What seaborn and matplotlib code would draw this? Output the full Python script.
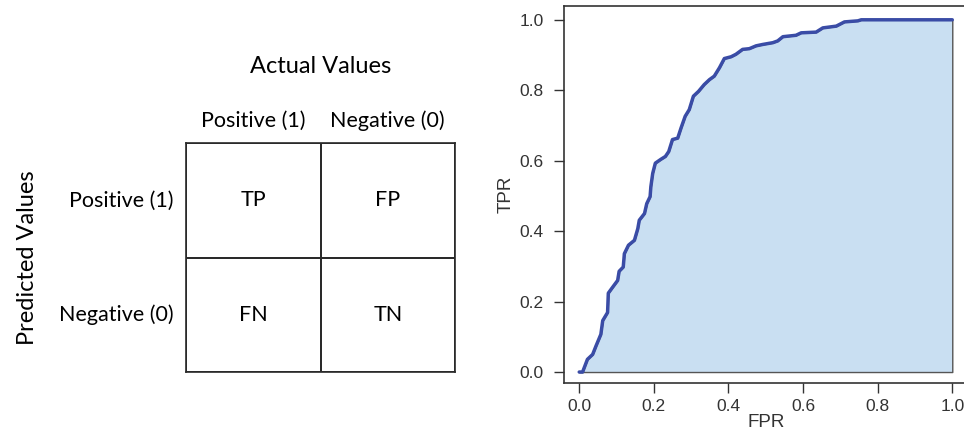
import numpy as np
import matplotlib
matplotlib.use('Agg')
import matplotlib.pyplot as plt
import seaborn as sns
from matplotlib.colors import ListedColormap

# confusion matrix layout
cells = [['TP', 'FP'], ['FN', 'TN']]
actual_labels = ['Positive (1)', 'Negative (0)']
predicted_labels = ['Positive (1)', 'Negative (0)']

# ROC curve
fpr = [0.0, 0.009, 0.022, 0.036, 0.045, 0.058, 0.063, 0.076, 0.078, 0.089,
       0.103, 0.107, 0.118, 0.121, 0.132, 0.148, 0.157, 0.161, 0.175, 0.181,
       0.19, 0.192, 0.197, 0.204, 0.219, 0.231, 0.24, 0.25, 0.264, 0.273,
       0.284, 0.295, 0.306, 0.32, 0.335, 0.349, 0.362, 0.376, 0.389, 0.407,
       0.42, 0.438, 0.456, 0.474, 0.492, 0.519, 0.532, 0.546, 0.581, 0.595,
       0.635, 0.653, 0.689, 0.711, 0.747, 0.756, 1.0]
tpr = [0.0, 0.0, 0.036, 0.05, 0.074, 0.107, 0.146, 0.169, 0.224, 0.24,
       0.26, 0.286, 0.298, 0.336, 0.36, 0.374, 0.407, 0.431, 0.45, 0.478,
       0.498, 0.526, 0.564, 0.593, 0.604, 0.612, 0.626, 0.66, 0.664, 0.693,
       0.726, 0.745, 0.783, 0.797, 0.816, 0.83, 0.84, 0.864, 0.89, 0.895,
       0.902, 0.916, 0.918, 0.926, 0.93, 0.935, 0.94, 0.952, 0.956, 0.963,
       0.965, 0.977, 0.982, 0.994, 0.997, 1.0, 1.0]
roc_ticks = [0.0, 0.2, 0.4, 0.6, 0.8, 1.0]

sns.set_style('white')
plt.rcParams['font.family'] = ['Liberation Sans', 'DejaVu Sans']
W, H = 964, 433
fig = plt.figure(figsize=(W / 100, H / 100), dpi=100)

# left panel: confusion matrix
ax1 = fig.add_axes([186 / W, 1 - 371.7 / H, 269 / W, 228.4 / H])
sns.heatmap(np.zeros((2, 2)), annot=np.array(cells), fmt='',
            cmap=ListedColormap(['white']), cbar=False,
            linewidths=1.2, linecolor='#2a2a2a',
            xticklabels=actual_labels, yticklabels=predicted_labels,
            annot_kws={'fontsize': 15.5, 'color': '#000', 'family': 'Lato'},
            ax=ax1)
for s in ax1.spines.values():
    s.set_visible(True)
    s.set_color('#2a2a2a')
    s.set_linewidth(1.2)
ax1.xaxis.tick_top()
ax1.xaxis.set_label_position('top')
ax1.tick_params(axis='both', length=0, labelsize=15.5, colors='#000')
ax1.tick_params(axis='x', pad=9)
ax1.tick_params(axis='y', pad=9)
for t in ax1.get_xticklabels() + ax1.get_yticklabels():
    t.set_family('Lato')
plt.setp(ax1.get_yticklabels(), rotation=0)
ax1.set_xlabel('Actual Values', fontsize=17, family='Lato', color='#000', labelpad=27)
ax1.set_ylabel('Predicted Values', fontsize=17, family='Lato', color='#000', labelpad=15)

# right panel: ROC curve
ax2 = fig.add_axes([564.3 / W, 1 - 383.3 / H, (967.2 - 564.3) / W, (383.3 - 5.7) / H])
ax2.fill_between(fpr, tpr, 0, facecolor='#c9dff2', edgecolor='#555', linewidth=1)
sns.lineplot(x=fpr, y=tpr, sort=False, estimator=None, color='#3a4ca6', linewidth=2.5, ax=ax2)
ax2.set_xlim(-0.04, 1.04)
ax2.set_ylim(-0.032, 1.04)
ax2.set_xticks(roc_ticks)
ax2.set_yticks(roc_ticks)
ax2.set_xticklabels([f'{v:.1f}' for v in roc_ticks])
ax2.set_yticklabels([f'{v:.1f}' for v in roc_ticks])
for s in ax2.spines.values():
    s.set_visible(True)
    s.set_color('#333')
    s.set_linewidth(1.2)
ax2.tick_params(axis='both', direction='out', length=7, width=1, color='#333',
                labelsize=12.5, labelcolor='#333', left=True, bottom=True)
ax2.tick_params(axis='y', pad=8)
ax2.tick_params(axis='x', pad=4)
ax2.set_xlabel('FPR', fontsize=13.5, color='#333', labelpad=0)
ax2.set_ylabel('TPR', fontsize=13.5, color='#333', labelpad=3)

fig.savefig('out.png', dpi=100)
